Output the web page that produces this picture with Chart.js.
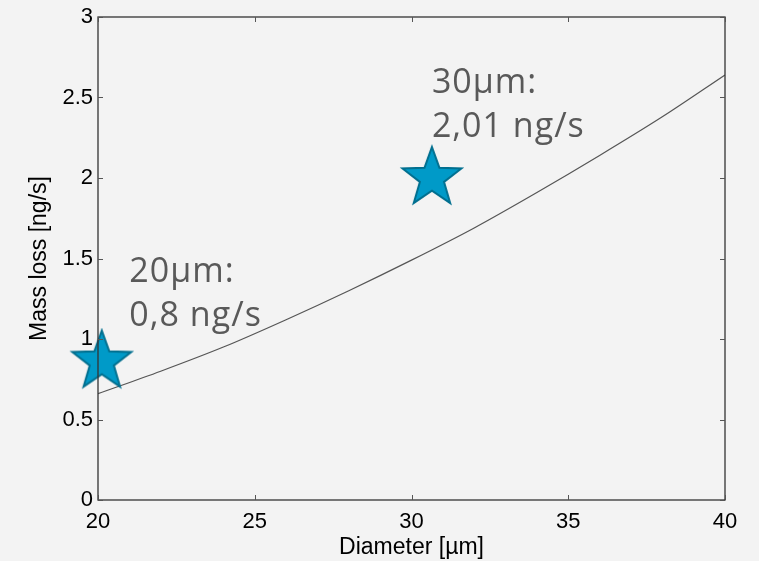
<!DOCTYPE html>
<html>
<head>
<meta charset="utf-8">
<script src="https://cdn.jsdelivr.net/npm/chart.js@4"></script>
<style>
  html, body { margin: 0; padding: 0; background: #f3f3f3; }
  #wrap { width: 759px; height: 561px; }
</style>
</head>
<body>
<div id="wrap"><canvas id="c" width="759" height="561"></canvas></div>
<script>
// ---- data ----
const curveDiameters = [20, 22, 24, 26, 28, 30, 32, 34, 36, 38, 40];
const curveMassLoss  = [0.66, 0.80, 0.95, 1.12, 1.30, 1.49, 1.69, 1.91, 2.14, 2.38, 2.64];
const measDiameters  = [20.12, 30.65];
const measMassLoss   = [0.86, 2.00];
const annotLines     = [["20µm:", "0,8 ng/s"], ["30µm:", "2,01 ng/s"]];
const annotAnchorX   = [21.0, 30.65];
const annotAnchorY   = [1.357, 2.53];
const xTicks = [20, 25, 30, 35, 40];
const yTicks = [0, 0.5, 1, 1.5, 2, 2.5, 3];

// star image used as point style
function makeStar(R) {
  const size = Math.ceil(R * 2 + 6);
  const cv = document.createElement('canvas');
  cv.width = size; cv.height = size;
  const g = cv.getContext('2d');
  const cx = size / 2, cy = size / 2;
  const r = R * 0.41;
  g.beginPath();
  for (let i = 0; i < 10; i++) {
    const rad = i % 2 === 0 ? R : r;
    const a = -Math.PI / 2 + i * Math.PI / 5;
    const px = cx + rad * Math.cos(a), py = cy + rad * Math.sin(a);
    if (i === 0) g.moveTo(px, py); else g.lineTo(px, py);
  }
  g.closePath();
  g.fillStyle = '#009ac8';
  g.fill();
  g.lineWidth = 2;
  g.strokeStyle = '#006f8f';
  g.lineJoin = 'miter';
  g.stroke();
  return cv;
}
const starImg = makeStar(31);

const frame = {
  id: 'frame',
  afterDatasetsDraw(chart) {
    const { ctx, chartArea: a, scales } = chart;
    ctx.save();
    ctx.strokeStyle = '#333';
    ctx.lineWidth = 1.3;
    ctx.strokeRect(a.left, a.top, a.right - a.left, a.bottom - a.top);
    ctx.lineWidth = 1;
    ctx.strokeStyle = '#555';
    const L = 5;
    ctx.beginPath();
    xTicks.forEach(v => {
      const x = Math.round(scales.x.getPixelForValue(v)) + 0.5;
      ctx.moveTo(x, a.bottom); ctx.lineTo(x, a.bottom - L);
      ctx.moveTo(x, a.top); ctx.lineTo(x, a.top + L);
    });
    yTicks.forEach(v => {
      const y = Math.round(scales.y.getPixelForValue(v)) + 0.5;
      ctx.moveTo(a.left, y); ctx.lineTo(a.left + L, y);
      ctx.moveTo(a.right, y); ctx.lineTo(a.right - L, y);
    });
    ctx.stroke();
    // annotations
    ctx.fillStyle = '#595959';
    ctx.font = '34px "Open Sans"';
    ctx.textBaseline = 'alphabetic';
    ctx.textAlign = 'left';
    try { ctx.letterSpacing = '1px'; } catch (e) {}
    annotLines.forEach((lines, i) => {
      const x = scales.x.getPixelForValue(annotAnchorX[i]);
      const y = scales.y.getPixelForValue(annotAnchorY[i]);
      lines.forEach((t, j) => ctx.fillText(t, x, y + j * 44));
    });
    ctx.restore();
  }
};

const bg = {
  id: 'bg',
  beforeDraw(chart) {
    const { ctx, width, height } = chart;
    ctx.save();
    ctx.fillStyle = '#f3f3f3';
    ctx.fillRect(0, 0, width, height);
    ctx.restore();
  }
};

new Chart(document.getElementById('c'), {
  type: 'scatter',
  data: {
    datasets: [
      {
        type: 'line',
        data: curveDiameters.map((d, i) => ({ x: d, y: curveMassLoss[i] })),
        borderColor: '#555555',
        borderWidth: 1.2,
        pointRadius: 0,
        cubicInterpolationMode: 'monotone',
        fill: false,
        order: 2
      },
      {
        data: measDiameters.map((d, i) => ({ x: d, y: measMassLoss[i] })),
        pointStyle: starImg,
        pointRadius: 31,
        clip: false,
        order: 1
      }
    ]
  },
  options: {
    responsive: false,
    animation: false,
    events: [],
    layout: { autoPadding: false, padding: { top: 17, right: 34, left: 0, bottom: 0 } },
    plugins: { legend: { display: false }, tooltip: { enabled: false } },
    scales: {
      x: {
        type: 'linear',
        min: 20, max: 40,
        afterBuildTicks(s) { s.ticks = xTicks.map(v => ({ value: v })); },
        afterFit(s) { s.height = 61; s.paddingLeft = 0; s.paddingRight = 0; },
        grid: { display: false, drawTicks: false },
        border: { display: false },
        ticks: { color: '#000', font: { family: '"Liberation Sans", Arial', size: 22 }, padding: 9, maxRotation: 0, callback: v => String(v) },
        title: { display: true, text: 'Diameter [µm]', color: '#000', font: { family: '"Liberation Sans", Arial', size: 23 }, padding: 0 }
      },
      y: {
        type: 'linear',
        min: 0, max: 3,
        afterBuildTicks(s) { s.ticks = yTicks.map(v => ({ value: v })); },
        afterFit(s) { s.width = 98; s.paddingTop = 0; s.paddingBottom = 0; },
        grid: { display: false, drawTicks: false },
        border: { display: false },
        ticks: { color: '#000', font: { family: '"Liberation Sans", Arial', size: 22 }, padding: 5, callback: v => String(v) },
        title: { display: true, text: 'Mass loss [ng/s]', color: '#000', font: { family: '"Liberation Sans", Arial', size: 23 }, padding: { top: 26 } }
      }
    }
  },
  plugins: [bg, frame]
});
</script>
</body>
</html>
